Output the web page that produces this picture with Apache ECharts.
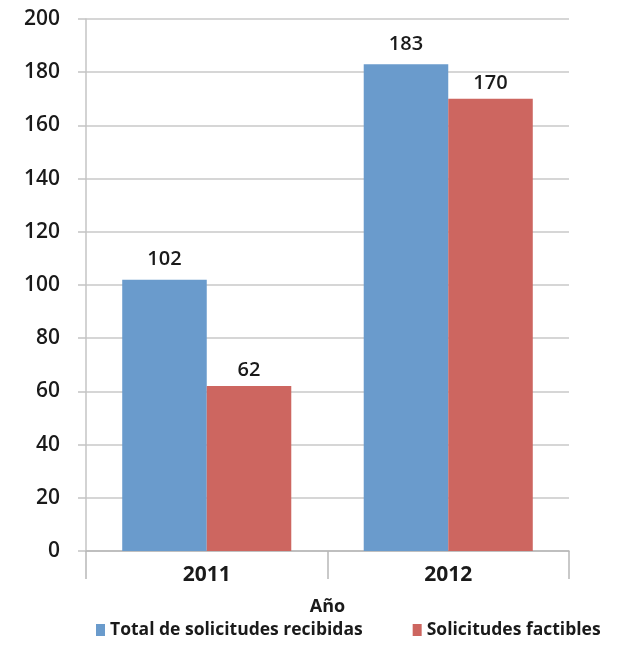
<!DOCTYPE html>
<html>
<head>
<meta charset="utf-8">
<script src="https://cdn.jsdelivr.net/npm/echarts@6/dist/echarts.min.js"></script>
<style>
  html, body { margin: 0; padding: 0; background: #ffffff; }
  #chart { width: 644px; height: 647px; }
</style>
</head>
<body>
<div id="chart"></div>
<script>
const years = ['2011', '2012']
const recibidas = [102, 183]
const factibles = [62, 170]
const yTicks = [0, 200, 20] // min, max, interval

const font = '"Open Sans", "Noto Sans", sans-serif'
const chart = echarts.init(document.getElementById('chart'))

chart.setOption({
  animation: false,
  textStyle: { fontFamily: font },
  grid: { left: 86, right: 75, top: 19, bottom: 96 },
  legend: {
    left: 91,
    bottom: 3,
    width: 560,
    orient: 'horizontal',
    itemWidth: 9,
    itemHeight: 12,
    itemGap: 50,
    icon: 'rect',
    textStyle: { fontSize: 17.5, fontWeight: 'bold', color: '#1a1a1a', fontFamily: font }
  },
  xAxis: {
    type: 'category',
    data: years,
    name: 'Año',
    nameLocation: 'middle',
    nameGap: 47,
    nameTextStyle: { fontSize: 18, fontWeight: 'bold', color: '#1a1a1a', fontFamily: font },
    axisLine: { lineStyle: { color: '#b8b8b8', width: 1.5 } },
    axisTick: { show: true, length: 28, lineStyle: { color: '#b8b8b8', width: 1.5 } },
    axisLabel: { fontSize: 21, fontWeight: 'bold', color: '#1a1a1a', margin: 14 }
  },
  yAxis: {
    type: 'value',
    min: yTicks[0],
    max: yTicks[1],
    interval: yTicks[2],
    axisLine: { show: true, lineStyle: { color: '#c4c4c4', width: 1.5 } },
    axisTick: { show: true, length: 8, lineStyle: { color: '#c4c4c4', width: 1.5 } },
    splitLine: { lineStyle: { color: '#c8c8c8', width: 1.5 } },
    axisLabel: { fontSize: 21, fontWeight: 600, color: '#1a1a1a', margin: 26 }
  },
  series: [{
    name: 'Total de solicitudes recibidas',
    type: 'bar',
    data: recibidas,
    barGap: '0%',
    barCategoryGap: '30%',
    itemStyle: { color: '#6a9bcc' },
    label: { show: true, position: 'top', distance: 10, fontSize: 20, fontWeight: 600, color: '#1a1a1a' }
  }, {
    name: 'Solicitudes factibles',
    type: 'bar',
    data: factibles,
    itemStyle: { color: '#cd6660' },
    label: { show: true, position: 'top', distance: 6, fontSize: 20, fontWeight: 600, color: '#1a1a1a' }
  }]
})
</script>
</body>
</html>
